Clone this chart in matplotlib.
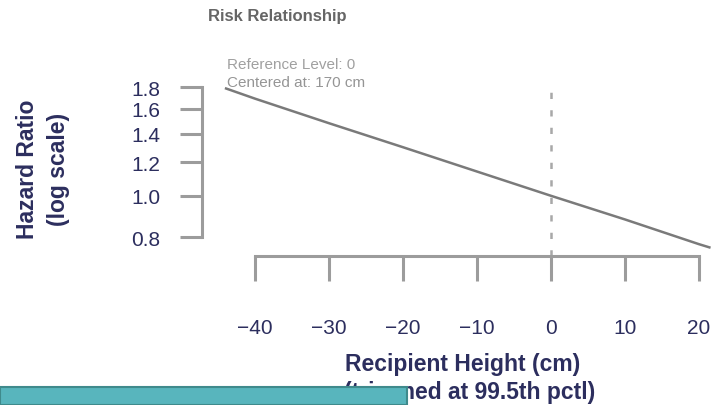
import matplotlib
matplotlib.use("Agg")
import matplotlib.pyplot as plt
from matplotlib.patches import Rectangle

# Hazard ratio curve for recipient height (centered, cm)
height_cm = [-44.1, -40, -30, -20, -10, 0, 10, 20, 21.6]
hazard_ratio = [1.79, 1.69, 1.48, 1.30, 1.14, 1.00, 0.88, 0.77, 0.755]

x_ticks = [-40, -30, -20, -10, 0, 10, 20]
y_ticks = [0.8, 1.0, 1.2, 1.4, 1.6, 1.8]
y_tick_labels = ["0.8", "1.0", "1.2", "1.4", "1.6", "1.8"]

W, H = 715, 406
plt.rcParams["font.family"] = ["Liberation Sans", "DejaVu Sans"]

fig = plt.figure(figsize=(W / 100, H / 100), dpi=100)
fig.patch.set_facecolor("white")

# plot region in pixel coordinates
left, right, top, bottom = 202, 715, 82, 257
ax = fig.add_axes([left / W, 1 - bottom / H, (right - left) / W, (bottom - top) / H])

navy = "#2c2e5e"
axis_gray = "#9c9c9c"

ax.set_yscale("log")
ax.set_xlim(-47.2, 22.2)
ax.set_ylim(0.722, 1.86)

ax.plot(height_cm, hazard_ratio, color="#7a7a7a", lw=1.8, solid_capstyle="butt", clip_on=False)
ax.vlines(0, 0.722, 1.8, colors="#a8a8a8", lw=1.8, linestyles=(0, (2.5, 4.5)))

for s in ("top", "right"):
    ax.spines[s].set_visible(False)
for s in ("left", "bottom"):
    ax.spines[s].set_color(axis_gray)
    ax.spines[s].set_linewidth(2.2)
ax.spines["left"].set_bounds(0.8, 1.8)
ax.spines["bottom"].set_bounds(-40, 20)

ax.set_xticks(x_ticks)
ax.set_xticklabels([str(v) if v >= 0 else "\u2212" + str(-v) for v in x_ticks])
ax.set_yticks(y_ticks)
ax.set_yticklabels(y_tick_labels)
ax.yaxis.set_minor_locator(matplotlib.ticker.NullLocator())
ax.tick_params(axis="y", direction="out", length=16, width=2.2, color=axis_gray,
               pad=14, labelsize=15, labelcolor=navy)
ax.tick_params(axis="x", direction="out", length=18, width=2.2, color=axis_gray,
               pad=27, labelsize=15, labelcolor=navy)

# axis titles
fig.text(27 / W, 1 - 169 / H, "Hazard Ratio", rotation=90, ha="center", va="center",
         fontsize=16.5, fontweight="bold", color=navy)
fig.text(58 / W, 1 - 169 / H, "(log scale)", rotation=90, ha="center", va="center",
         fontsize=16.5, fontweight="bold", color=navy)
fig.text(463 / W, 1 - 365 / H, "Recipient Height (cm)", ha="center", va="center",
         fontsize=16.5, fontweight="bold", color=navy)
fig.text(470 / W, 1 - 393 / H, "(trimmed at 99.5th pctl)", ha="center", va="center",
         fontsize=16.5, fontweight="bold", color=navy)

# title and reference note
fig.text(277 / W, 1 - 17 / H, "Risk Relationship", ha="center", va="center",
         fontsize=12, fontweight="bold", color="#666666")
fig.text(227 / W, 1 - 65 / H, "Reference Level: 0", ha="left", va="center",
         fontsize=11, color="#a0a0a0")
fig.text(227 / W, 1 - 83 / H, "Centered at: 170 cm", ha="left", va="center",
         fontsize=11, color="#959595")

# teal footer bar
fig.patches.append(Rectangle((0, 0), 407 / W, 18 / H, transform=fig.transFigure,
                             facecolor="#58b5bd", edgecolor="#3f8a8c", lw=1.5, zorder=10))

fig.savefig("out.png", dpi=100)
